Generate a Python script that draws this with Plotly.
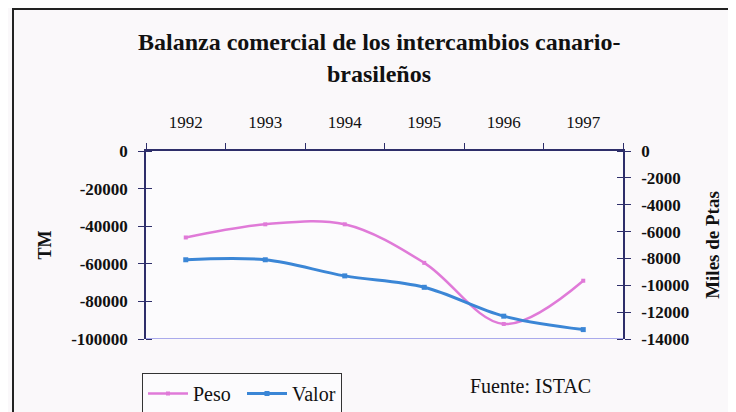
import plotly.graph_objects as go

years = ["1992", "1993", "1994", "1995", "1996", "1997"]
peso = [-46000, -39000, -39000, -59500, -92000, -69000]      # TM
valor = [-8100, -8100, -9300, -10150, -12300, -13300]        # Miles de Ptas

left_ticks = [0, -20000, -40000, -60000, -80000, -100000]
left_labels = ["0", "-20000", "-40000", "-60000", "-80000", "-100000"]
right_ticks = [0, -2000, -4000, -6000, -8000, -10000, -12000, -14000]
right_labels = ["0", "-2000", "-4000", "-6000", "-8000", "-10000", "-12000", "-14000"]

PINK = "#e07ad8"
BLUE = "#3b86d6"
AXIS = "#2e2e6a"
SERIF = "Liberation Serif, Times New Roman, serif"

# page is drawn with an 8px body margin; figure is sized to fill the rest
W, H = 728, 404
PL, PR, PT, PB = 138, 113, 143, 73          # plot area in figure pixels
PH = H - PT - PB                             # plot height


def py(page_y):
    """paper y from a page pixel row"""
    return (H - PB + 8 - page_y) / PH


def px(page_x):
    return (page_x - 8 - PL) / (W - PL - PR)


fig = go.Figure()
fig.add_trace(go.Scatter(
    x=years, y=peso, name="Peso", mode="lines+markers",
    line=dict(color=PINK, width=2.5, shape="spline", smoothing=1.0),
    marker=dict(symbol="square", size=4, color=PINK),
    yaxis="y"))
fig.add_trace(go.Scatter(
    x=years, y=valor, name="Valor", mode="lines+markers",
    line=dict(color=BLUE, width=3, shape="spline", smoothing=1.0),
    marker=dict(symbol="square", size=5, color=BLUE),
    yaxis="y2"))

fig.update_layout(
    width=W, height=H,
    margin=dict(l=PL, r=PR, t=PT, b=PB, autoexpand=False),
    paper_bgcolor="#faf8fa", plot_bgcolor="#fcfbfd",
    font=dict(family=SERIF, color="#111111", size=16),
    xaxis=dict(
        type="category", side="top", range=[-0.5, 5.5],
        showline=True, linecolor=AXIS, linewidth=1.5,
        ticks="outside", tickson="boundaries", ticklen=6, tickcolor=AXIS,
        showgrid=False, zeroline=False, tickfont=dict(size=17),
        ticklabelstandoff=14, anchor="y", automargin=False),
    yaxis=dict(
        range=[-100000, 0], tickmode="array", tickvals=left_ticks,
        ticktext=["<b>%s</b>" % t for t in left_labels],
        showline=True, linecolor=AXIS, linewidth=1.5,
        ticks="outside", ticklen=6, tickcolor=AXIS,
        minor=dict(tickmode="array", tickvals=[v - 1 for v in left_ticks],
                   ticks="inside", ticklen=6, tickcolor=AXIS, showgrid=False),
        showgrid=False, zeroline=False, automargin=False,
        tickfont=dict(size=17, family=SERIF), ticklabelstandoff=7,
        title=dict(text="<b>TM</b>", font=dict(size=18), standoff=15)),
    yaxis2=dict(
        range=[-14000, 0], tickmode="array", tickvals=right_ticks,
        ticktext=["<b>%s</b>" % t for t in right_labels],
        overlaying="y", side="right", automargin=False,
        showline=True, linecolor=AXIS, linewidth=1.5,
        ticks="outside", ticklen=6, tickcolor=AXIS,
        minor=dict(tickmode="array", tickvals=[v - 0.1 for v in right_ticks],
                   ticks="inside", ticklen=6, tickcolor=AXIS, showgrid=False),
        showgrid=False, zeroline=False, ticklabelstandoff=7,
        tickfont=dict(size=17, family=SERIF),
        title=dict(text="<b>Miles de Ptas</b>", font=dict(size=19), standoff=17)),
    showlegend=True,
    legend=dict(
        orientation="h", x=px(142), y=1 - (373 - 8) / H, xanchor="left", yanchor="top",
        xref="paper", yref="container",
        bgcolor="#fcfbfd", bordercolor="#333333", borderwidth=1,
        font=dict(size=20, family=SERIF), itemwidth=40, tracegroupgap=0,
        entrywidth=44, entrywidthmode="pixels"),
    shapes=[
        dict(type="line", xref="paper", yref="y", x0=0, x1=1, y0=-100000, y1=-100000,
             line=dict(color="#8f8fe6", width=1.5)),
        dict(type="rect", xref="paper", yref="paper", x0=px(13), x1=1.5, y0=-0.8, y1=py(9),
             line=dict(color="#222222", width=2), fillcolor="rgba(0,0,0,0)", layer="below"),
    ],
    annotations=[
        dict(text="<b>Balanza comercial de los intercambios canario-</b>",
             xref="paper", yref="paper", x=px(379), y=py(42),
             showarrow=False, font=dict(size=24, family=SERIF), xanchor="center", yanchor="middle"),
        dict(text="<b>brasileños</b>",
             xref="paper", yref="paper", x=px(379), y=py(74),
             showarrow=False, font=dict(size=24, family=SERIF), xanchor="center", yanchor="middle"),
        dict(text="Fuente: ISTAC", xref="paper", yref="paper", x=px(530), y=py(386),
             showarrow=False, font=dict(size=20, family=SERIF), xanchor="center", yanchor="middle"),
    ],
)

fig.write_html("out.html")
